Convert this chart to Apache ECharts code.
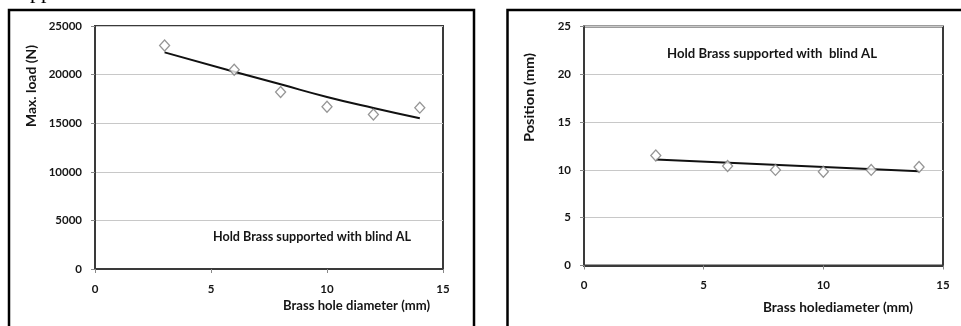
<!DOCTYPE html>
<html>
<head>
<meta charset="utf-8">
<script src="https://cdn.jsdelivr.net/npm/echarts@6/dist/echarts.min.js"></script>
<style>
html,body{margin:0;padding:0;background:#fff;}
#c{width:961px;height:326px;}
</style>
</head>
<body>
<div id="c"></div>
<script>
// ---- data ----
var holeDiameter = [3, 6, 8, 10, 12, 14];
var maxLoad = [23000, 20500, 18200, 16700, 15900, 16600];
var loadTrendX = [3, 6, 8, 10, 12, 14];
var loadTrend = [22290, 20300, 19000, 17700, 16560, 15500];
var position = [11.5, 10.4, 10.0, 9.8, 10.0, 10.3];
var posTrendX = [3, 14];
var posTrend = [11.1, 9.85];
var xTicks = [0, 5, 10, 15];
var loadTicks = [0, 5000, 10000, 15000, 20000, 25000];
var posTicks = [0, 5, 10, 15, 20, 25];
var leftNote = 'Hold Brass supported with blind AL';
var rightNote = 'Hold Brass supported with  blind AL';

function pairs(xs, ys) { return xs.map(function (x, i) { return [x, ys[i]]; }); }

var FONT = 'Lato';
var TXT = '#151515';
var BASE = 13;
var FONTSTR = 'bold ' + BASE + 'px Lato';

// text width measuring, used to stretch texts to the widths seen in the picture
var mctx = document.createElement('canvas').getContext('2d');
function textW(t, font) { mctx.font = font; return mctx.measureText(t).width; }
function fitScale(t, target) { return target / textW(t, FONTSTR); }

// tick label size chosen so that '25000' is ~33px wide
var tickFS = Math.max(10, Math.min(14, BASE * 33 / textW('25000', FONTSTR)));
tickFS = Math.round(tickFS * 2) / 2;

var labelStyle = { fontFamily: FONT, fontWeight: 'bold', fontSize: tickFS, color: TXT, formatter: function (v) { return String(v); } };

function xAxisCfg(gi) {
  return {
    type: 'value', gridIndex: gi, min: xTicks[0], max: xTicks[xTicks.length - 1], interval: 5,
    axisLine: { show: true, lineStyle: { color: '#3a3a3a', width: 2 } },
    axisTick: { show: true, inside: false, length: 4, lineStyle: { color: '#888' } },
    axisLabel: Object.assign({ margin: 14 }, labelStyle),
    splitLine: { show: false }
  };
}
function yAxisCfg(gi, ticks) {
  return {
    type: 'value', gridIndex: gi, min: ticks[0], max: ticks[ticks.length - 1], interval: ticks[1] - ticks[0],
    axisLine: { show: true, lineStyle: { color: '#3a3a3a', width: 2 } },
    axisTick: { show: true, inside: false, length: 4, lineStyle: { color: '#888' } },
    axisLabel: Object.assign({ margin: 13 }, labelStyle),
    splitLine: { show: true, lineStyle: { color: '#c8c8c8', width: 1 } }
  };
}

function txt(t, x, y, target, rot, align) {
  var s = fitScale(t, target);
  return {
    type: 'text', x: x, y: y, rotation: rot || 0, scaleX: s, scaleY: 1, z: 10,
    style: { text: t, font: FONTSTR, fill: TXT, textAlign: align || 'center', textVerticalAlign: 'middle' }
  };
}

var chart = echarts.init(document.getElementById('c'), null, { renderer: 'canvas' });
chart.setOption({
  backgroundColor: '#fff',
  animation: false,
  grid: [
    { left: 95, top: 26, width: 348, height: 243, show: true, borderColor: '#3a3a3a', borderWidth: 2, backgroundColor: 'transparent' },
    { left: 584, top: 26.5, width: 359, height: 239, show: true, borderColor: '#3a3a3a', borderWidth: 2, backgroundColor: 'transparent' }
  ],
  xAxis: [xAxisCfg(0), xAxisCfg(1)],
  yAxis: [yAxisCfg(0, loadTicks), yAxisCfg(1, posTicks)],
  series: [
    { type: 'line', xAxisIndex: 0, yAxisIndex: 0, data: pairs(loadTrendX, loadTrend), smooth: true, showSymbol: false,
      lineStyle: { color: '#111', width: 2 }, z: 2 },
    { type: 'scatter', xAxisIndex: 0, yAxisIndex: 0, data: pairs(holeDiameter, maxLoad), symbol: 'diamond', symbolSize: [10, 11],
      itemStyle: { color: '#fff', borderColor: '#7a7a7a', borderWidth: 1.3 }, z: 3 },
    { type: 'line', xAxisIndex: 1, yAxisIndex: 1, data: pairs(posTrendX, posTrend), showSymbol: false,
      lineStyle: { color: '#111', width: 2 }, z: 2 },
    { type: 'scatter', xAxisIndex: 1, yAxisIndex: 1, data: pairs(holeDiameter, position), symbol: 'diamond', symbolSize: [10, 11],
      itemStyle: { color: '#fff', borderColor: '#7a7a7a', borderWidth: 1.3 }, z: 3 }
  ],
  graphic: [
    { type: 'rect', shape: { x: 9, y: 10, width: 465, height: 330 }, style: { fill: 'none', stroke: '#000', lineWidth: 2.5 }, z: 0, silent: true },
    { type: 'rect', shape: { x: 507.5, y: 10, width: 470, height: 330 }, style: { fill: 'none', stroke: '#000', lineWidth: 2.5 }, z: 0, silent: true },
    { type: 'text', left: 30, top: -19, style: { text: 'pp', font: '22px "Liberation Serif"', fill: '#000' }, silent: true },
    txt(leftNote, 213, 237, 198, 0, 'left'),
    txt(rightNote, 667, 54, 210, 0, 'left'),
    txt('Brass hole diameter (mm)', 356.5, 306, 147),
    txt('Brass holediameter (mm)', 838, 308, 150),
    txt('Max. load (N)', 32, 86, 82, Math.PI / 2),
    txt('Position (mm)', 530, 97.5, 89, Math.PI / 2)
  ]
});
</script>
</body>
</html>
